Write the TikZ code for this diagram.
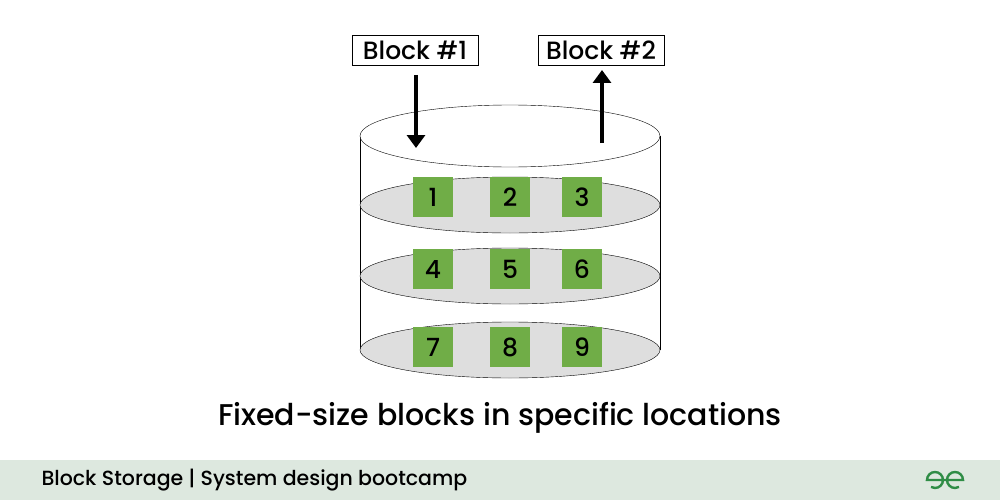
\documentclass[tikz,border=0pt]{standalone}
\usepackage{fontspec}
\setmainfont{Poppins Medium}
\usetikzlibrary{positioning,arrows.meta}
\definecolor{blockgreen}{HTML}{70AD47}
\definecolor{layergray}{HTML}{DEDEDE}
\definecolor{footbg}{HTML}{DDE8DF}
\definecolor{gfggreen}{HTML}{2F8D46}
\tikzset{
  blk/.style={fill=blockgreen,minimum size=40pt,inner sep=0pt,font=\fontsize{25}{25}\selectfont},
  lbl/.style={draw,thick,fill=white,minimum width=126pt,minimum height=30pt,inner sep=0pt,font=\fontsize{25}{25}\selectfont},
  flow/.style={-{Triangle[width=18pt,length=13pt]},line width=3.6pt}
}
\begin{document}
\begin{tikzpicture}[x=1pt,y=-1pt]
\useasboundingbox (0,0) rectangle (1000,500);

% cylinder
\draw (360,136) -- (360,350);
\draw (660,136) -- (660,350);
\draw[fill=white] (510,136) ellipse [x radius=150,y radius=31];

% layers
\foreach \y in {205,276,350}
  \draw[fill=layergray] (510,\y) ellipse [x radius=150,y radius=28];

% blocks
\foreach \n/\x/\y in {1/433/197,2/510/197,3/582/197,4/433/269,5/510/269,6/582/269,7/433/347,8/510/347,9/582/347}
  \node[blk] (b\n) at (\x,\y) {\n};

% labels
\node[lbl] (in) at (415,50) {Block \#1};
\node[lbl] (out) at (601,50) {Block \#2};
\coordinate (intip) at (416,148);
\coordinate (outbase) at (602,143);
\draw[flow] (416,75) -- (intip);
\draw[flow] (outbase) -- (602,70);

\node[font=\fontsize{30}{30}\selectfont] (cap) at (500,418) {Fixed-size blocks in specific locations};

% footer
\fill[footbg] (0,460) rectangle (1000,500);
\node[anchor=west,font=\fontsize{20.5}{20.5}\selectfont] (foot) at (38,480) {Block Storage | System design bootcamp};
\begin{scope}[gfggreen,line width=2.4pt]
  \draw (945,480) -- (963,480) arc[start angle=0,end angle=300,radius=8pt];
  \draw (945,480) -- (927,480) arc[start angle=180,end angle=-120,radius=8pt];
\end{scope}
\end{tikzpicture}
\end{document}
